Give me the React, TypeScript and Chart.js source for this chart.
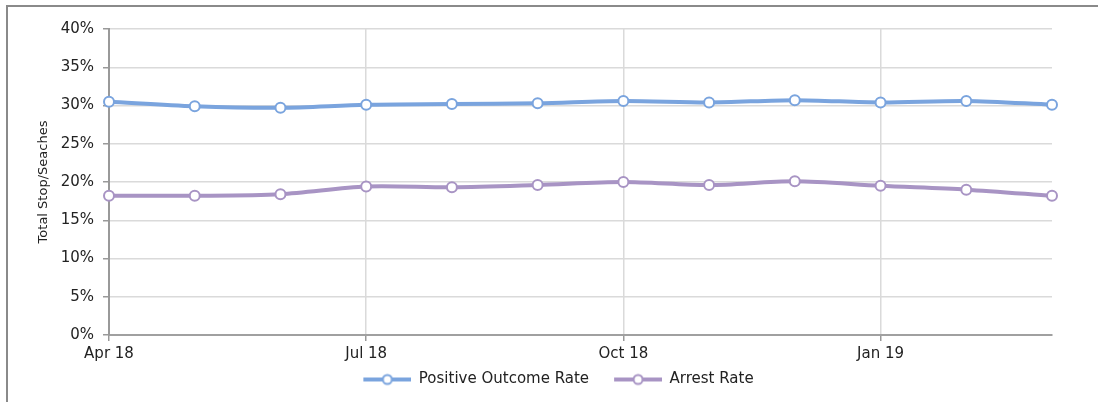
import React, { useEffect, useRef } from "react";
import { Chart, registerables } from "chart.js";

Chart.register(...registerables);

const months = [
  "Apr 18", "May 18", "Jun 18", "Jul 18", "Aug 18", "Sep 18",
  "Oct 18", "Nov 18", "Dec 18", "Jan 19", "Feb 19", "Mar 19",
];
const positiveOutcomeRate = [30.5, 29.9, 29.7, 30.1, 30.2, 30.3, 30.6, 30.4, 30.7, 30.4, 30.6, 30.1];
const arrestRate = [18.2, 18.2, 18.4, 19.4, 19.3, 19.6, 20.0, 19.6, 20.1, 19.5, 19.0, 18.2];
const seriesNames = ["Positive Outcome Rate", "Arrest Rate"];
const yAxisTitle = "Total Stop/Seaches";

const BLUE = "rgb(122,164,222)";
const PURPLE = "rgb(168,148,196)";
const FONT = "'DejaVu Sans', 'Liberation Sans', Arial, sans-serif";
const GAP = 17;

function legendImage(color: string): HTMLCanvasElement {
  const c = document.createElement("canvas");
  c.width = 48 + GAP;
  c.height = 14;
  const g = c.getContext("2d")!;
  g.strokeStyle = color;
  g.lineWidth = 4;
  g.beginPath();
  g.moveTo(GAP, 7);
  g.lineTo(GAP + 48, 7);
  g.stroke();
  g.beginPath();
  g.arc(GAP + 24, 7, 4.5, 0, Math.PI * 2);
  g.fillStyle = "#fff";
  g.fill();
  g.lineWidth = 2;
  g.stroke();
  return c;
}

const shiftLegend = {
  id: "shiftLegend",
  afterLayout(chart: any) {
    if (chart.legend) {
      chart.legend.left += 14;
      chart.legend.right += 14;
      chart.legend.top -= 3;
      chart.legend.bottom -= 3;
    }
  },
};

export default function App() {
  const ref = useRef<HTMLCanvasElement | null>(null);

  useEffect(() => {
    if (!ref.current) return;
    const colors = [BLUE, PURPLE];
    const imgs = colors.map(legendImage);
    const chart = new Chart(ref.current, {
      type: "line",
      data: {
        labels: months,
        datasets: [
          {
            label: seriesNames[0],
            data: positiveOutcomeRate,
            borderColor: BLUE,
            backgroundColor: "#fff",
            borderWidth: 4,
            pointRadius: 5,
            pointBorderWidth: 2,
            pointBackgroundColor: "#fff",
            pointBorderColor: BLUE,
            tension: 0.3,
          },
          {
            label: seriesNames[1],
            data: arrestRate,
            borderColor: PURPLE,
            backgroundColor: "#fff",
            borderWidth: 4,
            pointRadius: 5,
            pointBorderWidth: 2,
            pointBackgroundColor: "#fff",
            pointBorderColor: PURPLE,
            tension: 0.3,
          },
        ],
      },
      options: {
        responsive: false,
        animation: false,
        layout: { padding: { left: 20, right: 46, top: 29, bottom: 2 } },
        plugins: {
          tooltip: { enabled: false },
          legend: {
            position: "bottom",
            labels: {
              usePointStyle: true,
              pointStyleWidth: 48 + GAP,
              padding: 8,
              color: "#222",
              font: { family: FONT, size: 15 },
              generateLabels: (ch: any) =>
                ch.data.datasets.map((ds: any, i: number) => ({
                  text: ds.label,
                  pointStyle: imgs[i],
                  datasetIndex: i,
                  fillStyle: "#fff",
                  strokeStyle: colors[i],
                  lineWidth: 0,
                  hidden: false,
                  fontColor: "#222",
                })),
            },
          },
        },
        scales: {
          x: {
            type: "category",
            offset: false,
            grid: {
              color: (c: any) => (c.index % 3 === 0 ? "#dadada" : "rgba(0,0,0,0)"),
              tickColor: (c: any) => (c.index % 3 === 0 ? "#999" : "rgba(0,0,0,0)"),
              tickLength: 6,
              lineWidth: 1.5,
            },
            border: { color: "#a0a0a0", width: 2 },
            ticks: {
              autoSkip: false,
              maxRotation: 0,
              padding: 4,
              color: "#222",
              font: { family: FONT, size: 15 },
              callback: (_v: any, i: number) => (i % 3 === 0 ? months[i] : ""),
            },
          },
          y: {
            min: 0,
            max: 40,
            grid: { color: "#dadada", tickColor: "#999", tickLength: 6, lineWidth: 1.5 },
            border: { color: "#999", width: 2 },
            ticks: {
              stepSize: 5,
              padding: 9,
              color: "#222",
              font: { family: FONT, size: 15 },
              callback: (v: any) => `${v}%`,
            },
            title: {
              display: true,
              text: yAxisTitle,
              color: "#222",
              font: { family: FONT, size: 13 },
              padding: { top: 16, bottom: 0 },
            },
            afterFit: (s: any) => {
              s.width = 89;
            },
          },
        },
      },
      plugins: [shiftLegend],
    });
    return () => chart.destroy();
  }, []);

  return (
    <div style={{ position: "absolute", left: 0, top: 0, width: 1098, height: 402, background: "#fff" }}>
      <div
        style={{
          position: "absolute",
          left: 6,
          top: 5,
          width: 1092,
          height: 397,
          borderTop: "2px solid #8a8a8a",
          borderLeft: "2px solid #8a8a8a",
          boxSizing: "border-box",
        }}
      />
      <canvas ref={ref} width={1098} height={402} style={{ position: "absolute", left: 0, top: 0, display: "block" }} />
    </div>
  );
}
